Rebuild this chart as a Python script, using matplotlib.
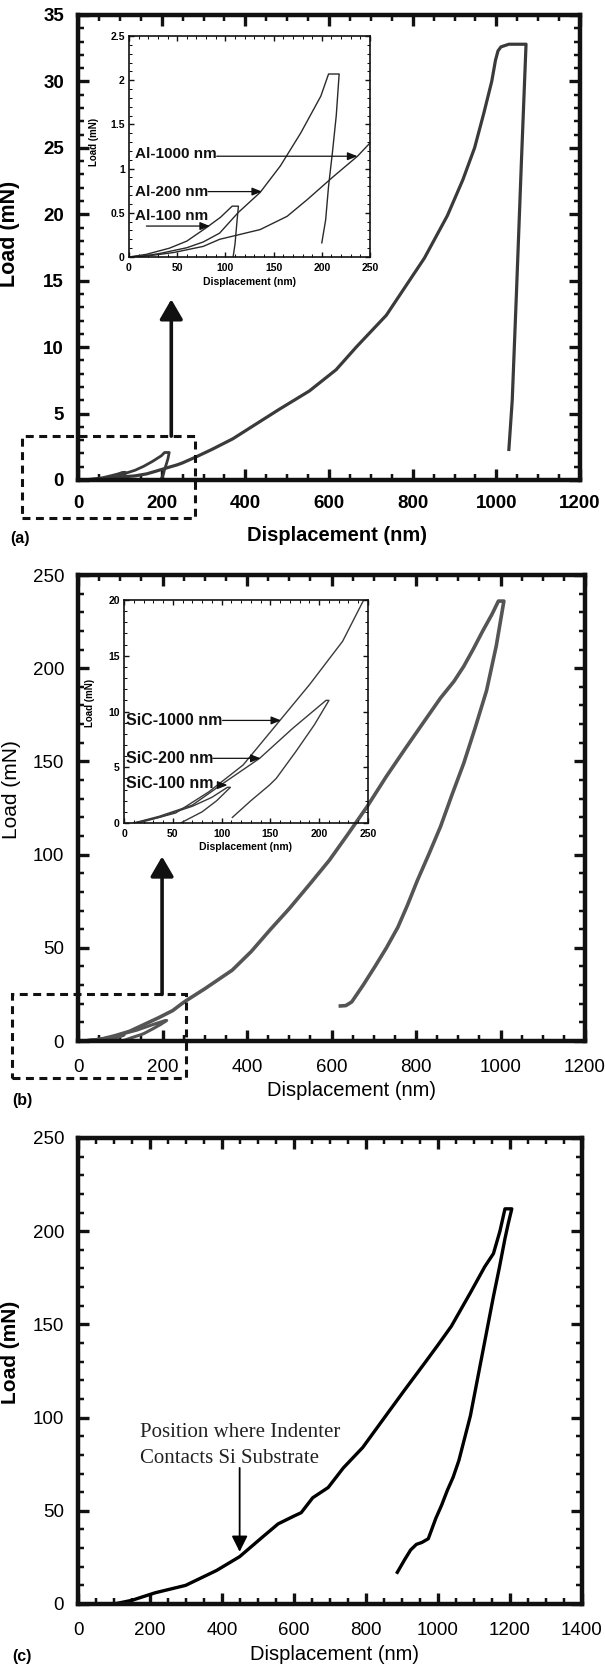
import matplotlib
matplotlib.use('Agg')
import matplotlib.pyplot as plt
from matplotlib.patches import Rectangle
from matplotlib.ticker import MultipleLocator

plt.rcParams['font.family'] = ['Liberation Sans', 'DejaVu Sans']

# ---- (a) Al films: load-displacement data (nm, mN) ----
al1000_nm = [0, 25, 46, 77, 94, 136, 164, 185, 212, 237, 250, 283, 320, 370, 420, 480, 553,
             617, 665, 737, 792, 828, 883, 920, 948, 970, 989, 998, 1004, 1011, 1030, 1071,
             1060, 1048, 1038, 1030]
al1000_mN = [0, 0.02, 0.05, 0.12, 0.2, 0.31, 0.46, 0.65, 0.91, 1.14, 1.29, 1.75, 2.3, 3.1, 4.1, 5.3, 6.7,
             8.3, 10.0, 12.4, 15.0, 16.7, 19.9, 22.6, 25.0, 27.6, 30.0, 31.6, 32.3, 32.6, 32.8, 32.8,
             24.0, 14.0, 6.0, 2.3]
al200_nm = [0, 15, 32, 60, 77, 94, 113, 136, 157, 178, 199, 207, 218,
            215, 211, 207, 204, 200]
al200_mN = [0, 0.01, 0.04, 0.105, 0.17, 0.27, 0.5, 0.73, 1.03, 1.40, 1.82, 2.07, 2.07,
            1.6, 1.18, 0.8, 0.42, 0.16]
al100_nm = [0, 18, 42, 60, 80, 95, 107, 113.5, 112, 110, 108]
al100_mN = [0, 0.03, 0.10, 0.18, 0.33, 0.45, 0.575, 0.575, 0.4, 0.15, 0.0]

# ---- (b) SiC films ----
sic1000_nm = [12, 19, 53, 87, 122, 156, 190, 224, 245, 255, 300, 365, 410, 456, 500, 548, 595,
              639, 685, 730, 775, 821, 858, 890, 913, 935, 958, 980, 995, 1008,
              990, 967, 940, 913, 885, 858, 830, 803, 780, 757, 730, 703, 675, 648, 634, 621]
sic1000_mN = [0, 0.1, 0.9, 2.8, 5.2, 8.8, 12.4, 16.3, 19.9, 21.5, 28, 38, 48, 60, 71, 84, 97,
              111, 126, 142, 157, 172, 184, 193, 201, 210, 220, 229, 236, 236,
              212, 188, 168, 149, 132, 115, 100, 86, 73, 61, 50, 40, 30, 21, 19, 18.8]
sic200_nm = [10, 36, 70, 104, 139, 173, 207, 210, 195, 176, 156, 149, 130, 111]
sic200_mN = [0, 0.6, 1.6, 3.7, 5.8, 8.5, 11.0, 11.0, 8.8, 6.4, 4.0, 3.4, 2.0, 0.5]
sic100_nm = [10, 36, 70, 90, 106, 109, 95, 80, 58]
sic100_mN = [0, 0.5, 1.5, 2.3, 3.2, 3.2, 2.0, 1.0, 0.0]

# ---- (c) film on Si substrate ----
c_nm = [100, 150, 214, 299, 385, 449, 513, 556, 598, 620, 652, 695, 737, 791, 855, 908, 962,
        1000, 1037, 1090, 1130, 1154, 1172, 1186, 1205,
        1195, 1186, 1170, 1154, 1138, 1122, 1106, 1090, 1074, 1058, 1042, 1026, 1010, 994,
        973, 955, 940, 924, 908, 887]
c_mN = [0, 2, 6, 10, 18, 25.4, 36, 43, 47, 49, 57, 62.5, 73, 84, 101, 115, 129,
        139, 149, 167, 181, 188, 200, 212, 212,
        204, 196, 180, 165, 149, 133, 117, 101, 89, 77, 68, 61, 53, 46,
        35, 33, 32, 29, 24, 17]

W, H = 605, 1671
INK = '#111111'


def box(l, t, r, b):
    # pixel box (from top-left) -> figure fraction rect
    return [l / W, 1 - b / H, (r - l) / W, (b - t) / H]


def style(ax, xmaj, xmin, ymaj, ymin, spine_w, weight, fs, pad_x, pad_y,
          maj_len=8, min_len=4.5, tw=2.4):
    ax.xaxis.set_major_locator(MultipleLocator(xmaj))
    ax.xaxis.set_minor_locator(MultipleLocator(xmin))
    ax.yaxis.set_major_locator(MultipleLocator(ymaj))
    ax.yaxis.set_minor_locator(MultipleLocator(ymin))
    ax.tick_params(which='both', direction='in', top=True, right=True, color=INK)
    ax.tick_params(which='major', length=maj_len, width=tw)
    ax.tick_params(which='minor', length=min_len, width=tw * 0.75)
    ax.tick_params(axis='x', which='major', pad=pad_x, labelsize=fs)
    ax.tick_params(axis='y', which='major', pad=pad_y, labelsize=fs)
    for s in ax.spines.values():
        s.set_linewidth(spine_w)
        s.set_color(INK)
    for lab in ax.get_xticklabels() + ax.get_yticklabels():
        lab.set_fontweight(weight)


def zoom_marker(ax, x0, y0, x1, y1, ax_x, tip_y):
    rect = Rectangle((x0, y0), x1 - x0, y1 - y0, fill=False, lw=2.2,
                     ls=(0, (2.6, 1.8)), ec=INK, clip_on=False, zorder=5)
    ax.add_patch(rect)
    ax.annotate('', xy=(ax_x, tip_y), xytext=(ax_x, y1),
                arrowprops=dict(arrowstyle='-|>,head_length=0.55,head_width=0.32',
                                mutation_scale=22, lw=2.6, color=INK,
                                shrinkA=0, shrinkB=0),
                annotation_clip=False)


def inset_label(ax, text, tx, ty, ax0, ax1, ay, fs=11):
    ax.text(tx, ty, text, fontsize=fs, fontweight='bold', va='center', ha='left', color=INK)
    ax.annotate('', xy=(ax1, ay), xytext=(ax0, ay),
                arrowprops=dict(arrowstyle='-|>,head_length=0.5,head_width=0.2',
                                mutation_scale=12, lw=0.9, color=INK,
                                shrinkA=0, shrinkB=0))


fig = plt.figure(figsize=(W / 100, H / 100), dpi=100)

# ================= (a) =================
axa = fig.add_axes(box(78, 15, 580, 480))
axa.plot(al1000_nm, al1000_mN, color='#3a3a3a', lw=2.3)
axa.plot(al200_nm, al200_mN, color='#3a3a3a', lw=2.0)
axa.plot(al100_nm, al100_mN, color='#3a3a3a', lw=2.0)
axa.set_xlim(0, 1200)
axa.set_ylim(0, 35)
style(axa, 200, 50, 5, 1, 3.2, 'bold', 13.5, 11, 10)
axa.set_ylabel('Load (mN)', fontsize=15.5, fontweight='bold')
axa.yaxis.set_label_coords(-0.116, 0.53)
axa.set_xlabel('Displacement (nm)', fontsize=14.5, fontweight='bold')
axa.xaxis.set_label_coords(0.516, -0.098)
zoom_marker(axa, -134, -2.85, 280, 3.3, 223, 13.6)
fig.text(10 / W, 1 - 538 / H, '(a)', fontsize=11.5, fontweight='bold', va='center')

ia = fig.add_axes(box(129, 36, 370, 257))
ia.set_facecolor('none')
ia.plot(al1000_nm, al1000_mN, color='#2a2a2a', lw=1.0)
ia.plot(al200_nm, al200_mN, color='#2a2a2a', lw=1.0)
ia.plot(al100_nm, al100_mN, color='#2a2a2a', lw=1.0)
ia.set_xlim(0, 250)
ia.set_ylim(0, 2.5)
style(ia, 50, 10, 0.5, 0.1, 1.2, 'bold', 7.5, 4, 3, maj_len=3.5, min_len=2, tw=1.0)
ia.set_yticks([0, 0.5, 1, 1.5, 2, 2.5])
ia.set_yticklabels(['0', '0.5', '1', '1.5', '2', '2.5'], fontweight='bold', fontsize=7.5)
ia.set_ylabel('Load (mN)', fontsize=7, fontweight='bold')
ia.yaxis.set_label_coords(-0.124, 0.52)
ia.set_xlabel('Displacement (nm)', fontsize=7.5, fontweight='bold')
ia.xaxis.set_label_coords(0.5, -0.09)
inset_label(ia, 'Al-1000 nm', 6, 1.16, 91, 237, 1.14)
inset_label(ia, 'Al-200 nm', 6, 0.74, 82, 138, 0.74)
ia.text(6, 0.46, 'Al-100 nm', fontsize=11, fontweight='bold', va='center', ha='left', color=INK)
ia.annotate('', xy=(84, 0.35), xytext=(18, 0.35),
            arrowprops=dict(arrowstyle='-|>,head_length=0.5,head_width=0.2',
                            mutation_scale=12, lw=0.9, color=INK, shrinkA=0, shrinkB=0))

# ================= (b) =================
axb = fig.add_axes(box(78, 575, 585, 1041))
axb.plot(sic1000_nm, sic1000_mN, color='#555555', lw=2.6)
axb.plot(sic200_nm, sic200_mN, color='#555555', lw=2.2)
axb.plot(sic100_nm, sic100_mN, color='#555555', lw=2.2)
axb.set_xlim(0, 1200)
axb.set_ylim(0, 250)
style(axb, 200, 50, 50, 10, 3.2, 'normal', 13.5, 13, 10)
axb.set_ylabel('Load (mN)', fontsize=15)
axb.yaxis.set_label_coords(-0.112, 0.54)
axb.set_xlabel('Displacement (nm)', fontsize=14.5)
axb.xaxis.set_label_coords(0.54, -0.085)
zoom_marker(axb, -156, -19.8, 255, 25, 199, 99)
fig.text(12 / W, 1 - 1100 / H, '(b)', fontsize=11.5, fontweight='bold', va='center')

ib = fig.add_axes(box(124, 600, 368, 823))
ib.set_facecolor('none')
ib.plot(sic1000_nm, sic1000_mN, color='#3a3a3a', lw=1.0)
ib.plot(sic200_nm, sic200_mN, color='#3a3a3a', lw=1.0)
ib.plot(sic100_nm, sic100_mN, color='#3a3a3a', lw=1.0)
ib.set_xlim(0, 250)
ib.set_ylim(0, 20)
style(ib, 50, 10, 5, 1, 1.2, 'bold', 7.5, 4, 3, maj_len=3.5, min_len=2, tw=1.0)
ib.set_ylabel('Load (mN)', fontsize=7, fontweight='bold')
ib.yaxis.set_label_coords(-0.119, 0.54)
ib.set_xlabel('Displacement (nm)', fontsize=7.5, fontweight='bold')
ib.xaxis.set_label_coords(0.5, -0.085)
inset_label(ib, 'SiC-1000 nm', 2, 9.2, 101, 161, 9.2, fs=11.5)
inset_label(ib, 'SiC-200 nm', 2, 5.8, 91, 140, 5.8, fs=11.5)
inset_label(ib, 'SiC-100 nm', 2, 3.5, 98, 106, 3.4, fs=11.5)

# ================= (c) =================
axc = fig.add_axes(box(78, 1138, 582, 1604))
axc.plot(c_nm, c_mN, color='#000000', lw=2.4)
axc.set_xlim(0, 1400)
axc.set_ylim(0, 250)
style(axc, 200, 50, 50, 10, 3.2, 'normal', 13.5, 13, 10)
axc.set_ylabel('Load (mN)', fontsize=15, fontweight='bold')
axc.yaxis.set_label_coords(-0.116, 0.54)
axc.set_xlabel('Displacement (nm)', fontsize=14.5)
axc.xaxis.set_label_coords(0.508, -0.088)
axc.text(171, 92, 'Position where Indenter', family='Liberation Serif', fontsize=15,
         va='center', ha='left', color='#222222')
axc.text(171, 78, 'Contacts Si Substrate', family='Liberation Serif', fontsize=15,
         va='center', ha='left', color='#222222')
axc.annotate('', xy=(449, 28), xytext=(449, 73),
             arrowprops=dict(arrowstyle='-|>,head_length=0.6,head_width=0.3',
                             mutation_scale=16, lw=1.3, color='#000000',
                             shrinkA=0, shrinkB=0))
fig.text(12 / W, 1 - 1657 / H, '(c)', fontsize=11.5, fontweight='bold', va='center')

fig.savefig('out.png', dpi=100)
